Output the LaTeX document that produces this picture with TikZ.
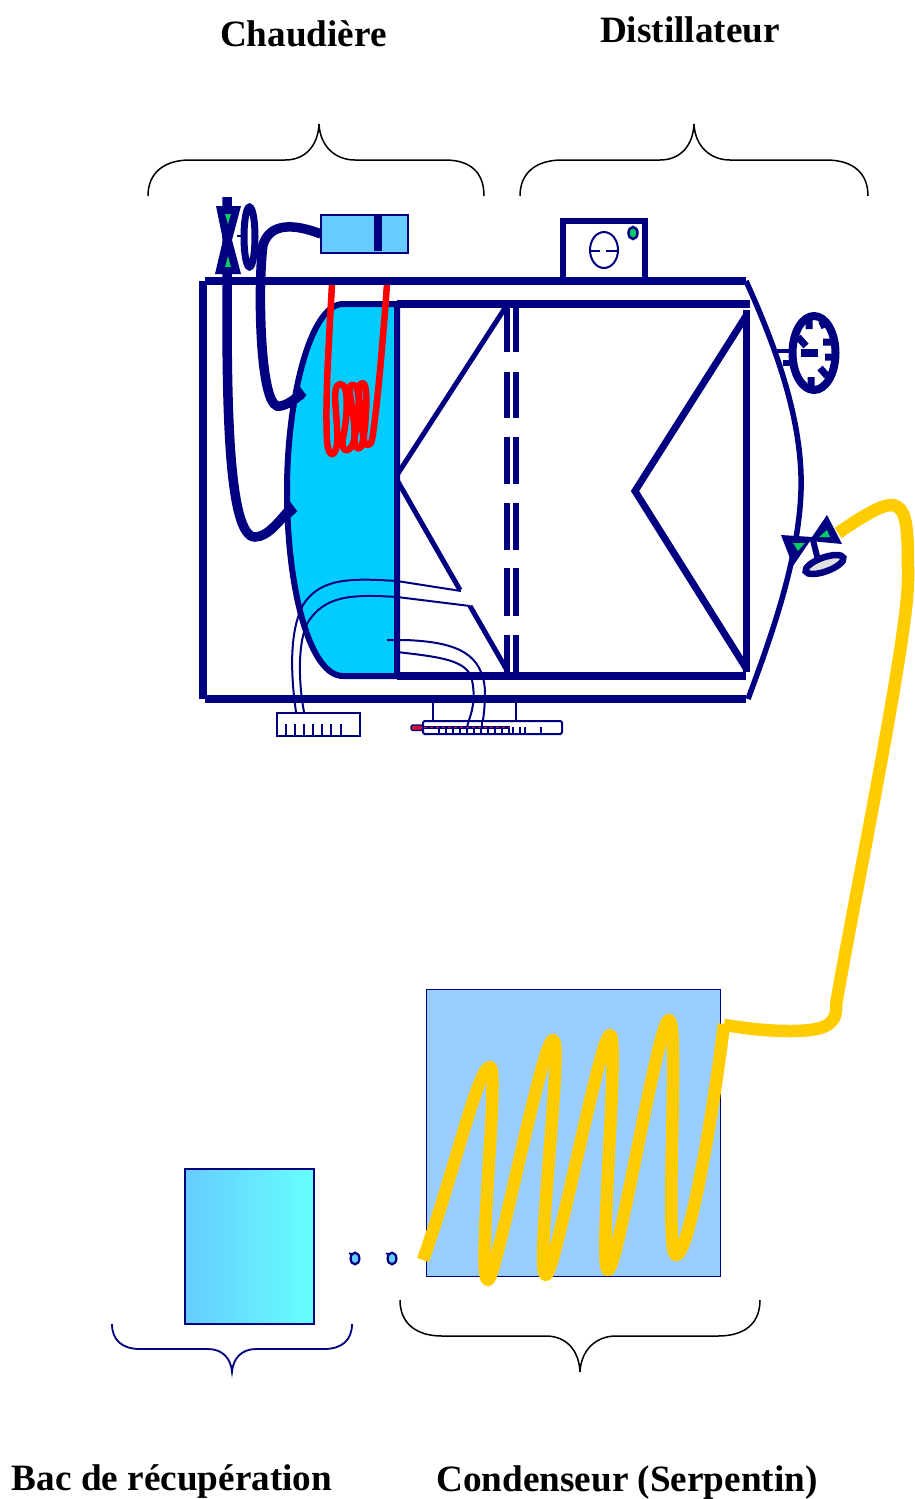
\documentclass[tikz,border=0pt]{standalone}
\usepackage{fontspec}
\setmainfont{Liberation Serif}
\definecolor{navy}{HTML}{000080}
\definecolor{boil}{HTML}{00CCFF}
\definecolor{sky}{HTML}{66CCFF}
\definecolor{aqua}{HTML}{66FFFF}
\definecolor{pale}{HTML}{99CCFF}
\definecolor{gold}{HTML}{FFCC00}
\definecolor{grn}{HTML}{00CC66}
\definecolor{crim}{HTML}{CC1133}
\tikzset{
 title/.style={font=\bfseries\fontsize{37.2}{40}\selectfont,text=black,inner sep=0pt},
 brace/.style={draw=black,line width=1.5pt},
 navybrace/.style={draw=navy,line width=1.8pt},
 wall/.style={draw=navy,line width=7.5pt},
 thinwire/.style={draw=navy,line width=2pt},
 tick/.style={draw=navy,line width=1.8pt},
 dashbar/.style={draw=navy,line width=6pt},
 redcoil/.style={draw=red,line width=6.5pt,line join=round},
 goldpipe/.style={draw=gold,line width=12.5pt,line join=round},
 pipe/.style={draw=navy,line width=9.5pt},
}
\begin{document}
\begin{tikzpicture}[x=1pt,y=-1pt]
\useasboundingbox (0,0) rectangle (914,1499);
% titles
\node[title] (chaud) at (303.5,34) {Chaudière};
\node[title] (dist) at (690,29.5) {Distillateur};
\node[title] (bac) at (172,1481.5) {Bac de récupération};
\node[title] (cond) at (627,1482.5) {Condenseur (Serpentin)};
% braces
\draw[brace] (148,196) .. controls (148,172) and (165,160) .. (190,160) -- (285,160) .. controls (305,160) and (318,146) .. (319,124) .. controls (320,146) and (335,160) .. (355,160) -- (445,160) .. controls (470,160) and (484,172) .. (484,196);
\draw[brace] (520,196) .. controls (520,172) and (537,160) .. (562,160) -- (660,160) .. controls (680,160) and (693,146) .. (694,124) .. controls (695,146) and (710,160) .. (730,160) -- (826,160) .. controls (852,160) and (868,172) .. (868,196);
\draw[brace] (400,1300) .. controls (400,1324) and (417,1336) .. (442,1336) -- (546,1336) .. controls (566,1336) and (579,1350) .. (580,1372) .. controls (581,1350) and (596,1336) .. (616,1336) -- (718,1336) .. controls (744,1336) and (760,1324) .. (760,1300);
\draw[navybrace] (112,1324) .. controls (112,1340) and (122,1349) .. (140,1349) -- (208,1349) .. controls (222,1349) and (231,1358) .. (232,1372) .. controls (233,1358) and (242,1349) .. (256,1349) -- (324,1349) .. controls (342,1349) and (352,1340) .. (352,1324);
% boiler body
\draw[draw=navy,line width=6pt,fill=boil] (397,304) -- (343,304) .. controls (310,304) and (287,400) .. (287,490) .. controls (287,590) and (310,676) .. (343,676) -- (397,676) -- cycle;
% thin wires
\draw[thinwire] (461,591) -- (397,581) .. controls (350,578) and (320,578) .. (303,605) .. controls (290,630) and (290,670) .. (296,712);
\draw[thinwire] (470,606) -- (397,597) .. controls (350,594) and (325,596) .. (308,622) .. controls (298,640) and (298,680) .. (304,712);
\draw[thinwire] (387,640) -- (405,640) .. controls (460,642) and (482,655) .. (485,690) .. controls (485,705) and (484,715) .. (482,726);
\draw[thinwire] (397,652) .. controls (440,657) and (468,660) .. (472,680) .. controls (476,700) and (472,712) .. (467,726);
% red coil
\draw[redcoil] (332,284) .. controls (329,340) and (325,400) .. (327,440) .. controls (328,458) and (335,458) .. (337,445) .. controls (339,420) and (330,385) .. (340,384) .. controls (350,383) and (347,420) .. (343,438) .. controls (340,454) and (351,454) .. (354,440) .. controls (357,420) and (346,386) .. (351,385) .. controls (362,380) and (359,420) .. (355,435) .. controls (353,452) and (362,452) .. (363,440) .. controls (364,420) and (354,384) .. (362,383) .. controls (369,381) and (366,420) .. (364,435) .. controls (363,447) and (370,448) .. (372,440) .. controls (377,410) and (383,340) .. (387,284);
% inner vessel
\draw[wall] (397,304) -- (750,304);
\draw[wall] (397,676) -- (746,676);
\draw[draw=navy,line width=6pt] (397,304) -- (397,676);
\draw[draw=navy,line width=7pt] (746,310) -- (746,672);
\draw[draw=navy,line width=5pt] (397,475) -- (505,308);
\draw[draw=navy,line width=5pt] (397,480) -- (460,590);
\draw[draw=navy,line width=5pt] (470,606) -- (508,672);
\draw[draw=navy,line width=7pt] (746,316) -- (635,491) -- (746,668);
% dashed double wall
\foreach \ya/\yb in {305/352,372/418,437/484,503/550,568/616,635/676}{
 \draw[dashbar] (507,\ya) -- (507,\yb);
 \draw[dashbar] (516,\ya) -- (516,\yb);
}
% outer casing
\draw[wall] (203,281) -- (203,699);
\draw[wall] (205,281) -- (746,281);
\draw[wall] (205,699) -- (746,699);
\draw[draw=navy,line width=5.5pt] (746,281) .. controls (775,345) and (803,420) .. (801,490) .. controls (799,560) and (770,640) .. (748,699);
% top-left valve and pipes
\draw[pipe] (227,197) -- (227,300) .. controls (227,400) and (228,537) .. (255,537) .. controls (268,537) and (280,520) .. (291,508);
\draw[draw=navy,line width=5pt,line join=miter] (288,503) -- (294,511) -- (286,518);
\fill[navy] (216,206) -- (241,206) -- (232,240) -- (241,274) -- (215,274) -- (223,240) -- cycle;
\fill[grn] (225,214) -- (231,214) -- (228,224) -- cycle;
\fill[grn] (225,267) -- (231,267) -- (228,256) -- cycle;
\draw[draw=navy,line width=2.5pt] (237,236) -- (244,236);
\draw[draw=navy,line width=7pt] (249.5,237) ellipse [x radius=5.5pt,y radius=30pt];
\draw[pipe] (321,234) .. controls (295,224) and (270,222) .. (263,245) .. controls (258,280) and (259,400) .. (277,406) .. controls (285,407) and (293,400) .. (302,394);
\draw[draw=navy,line width=5pt] (297,387) -- (303,395) -- (296,401);
% top box
\node[draw=navy,line width=2pt,fill=sky,minimum width=87pt,minimum height=38pt,inner sep=0pt] (hbox) at (364.5,234) {};
\draw[draw=navy,line width=8pt] (378,216) -- (378,251);
% distillateur box
\draw[draw=navy,line width=6pt] (563,278) -- (563,220.5) -- (645,220.5) -- (645,278);
\draw[draw=navy,line width=2pt] (604,250) ellipse [x radius=14pt,y radius=18pt];
\draw[draw=navy,line width=2pt] (590,251) -- (600,251) (606,251) -- (617,251);
\draw[draw=navy,line width=2.5pt,fill=grn] (633,233) ellipse [x radius=4.5pt,y radius=6pt];
% gauge
\draw[draw=navy,line width=4.5pt] (776,351) -- (791,351);
\draw[draw=navy,line width=6pt] (783,363) -- (802,363);
\draw[draw=navy,line width=8pt,fill=white] (814,353) ellipse [x radius=21.5pt,y radius=37pt];
\draw[draw=navy,line width=7pt] (809,320) -- (809,329) (798,337) -- (806,346) (823,342) -- (833,342) (825,357) -- (833,357) (820,368) -- (827,376) (811,377) -- (811,387) (828,322) -- (820,326);
\draw[draw=navy,line width=8pt] (801,353) -- (818,353);
% outlet valve
\draw[draw=navy,line width=6pt] (813,540) -- (818,560);
\fill[navy] (781,535) -- (812,537) -- (827,515) -- (842,544) -- (810,541) -- (793,566) -- cycle;
\fill[grn] (793,543) -- (805,543) -- (798,551) -- cycle;
\fill[grn] (819,537) -- (827,530) -- (830,537) -- cycle;
\draw[draw=navy,line width=6.5pt,fill=white!88!black] (824.5,564.5) ellipse [x radius=20pt,y radius=7pt,rotate=20];
% condenser
\node[draw=navy,line width=1pt,fill=pale,minimum width=294pt,minimum height=287pt,inner sep=0pt] (condbox) at (573,1132.5) {};
% gold pipe
\draw[goldpipe] (838,533) .. controls (860,518) and (880,505) .. (892,505) .. controls (908,507) and (908,530) .. (908,580) .. controls (908,640) and (850,920) .. (836,1005);
\draw[goldpipe] (836,1003) .. controls (838,1025) and (825,1031) .. (790,1031) .. controls (760,1031) and (740,1027) .. (724,1025);
\draw[goldpipe] (423,1260) .. controls (455,1170) and (478,1067) .. (490,1067) .. controls (500,1068) and (476,1280) .. (488,1280) .. controls (496,1280) and (542,1040) .. (553,1040) .. controls (564,1040) and (534,1275) .. (546,1275) .. controls (555,1275) and (600,1035) .. (610,1035) .. controls (620,1035) and (598,1270) .. (608,1270) .. controls (618,1270) and (658,1020) .. (669,1020) .. controls (680,1020) and (664,1255) .. (676,1255) .. controls (690,1255) and (715,1100) .. (724,1024);
% drops
\foreach \dx in {355,392}{
 \draw[draw=navy,line width=2.2pt,fill=sky] (\dx,1258.5) ellipse [x radius=4.4pt,y radius=5.8pt];
 \draw[draw=navy,line width=1.8pt] (\dx-6,1253.5) -- (\dx-2,1254);
}
% collection tank
\node[draw=navy,line width=2pt,minimum width=129pt,minimum height=155pt,inner sep=0pt,left color=sky,right color=aqua] (tank) at (249.5,1246.5) {};
% lower left scale
\node[draw=navy,line width=2pt,fill=white,minimum width=83pt,minimum height=23pt,inner sep=0pt] (scale) at (318.5,724.5) {};
\foreach \tx in {286,295,304,313,322,331,341}{\draw[tick] (\tx,724) -- (\tx,736);}
% thermometer
\draw[thinwire] (433,702) -- (433,721);
\draw[thinwire] (516,702) -- (516,724);
\draw[thinwire,fill=white,rounded corners=1.5pt] (423,721) rectangle (562,734);
\foreach \tx in {439,446,453,460,467,474,481,488,495,502,509}{\draw[tick] (\tx,728) -- (\tx,734);}
\foreach \tx in {513,520,525,541}{\draw[tick] (\tx,727) -- (\tx,734);}
\draw[draw=navy,line width=3pt] (424,727.5) -- (510,727.5);
\draw[draw=crim,line width=1pt,dashed] (424,727.5) -- (510,727.5);
\draw[draw=navy,line width=1.2pt,fill=crim,rounded corners=1.5pt] (411,725) rectangle (423,730.5);
% wire ends over the scales
\draw[thinwire] (482,720) -- (482,727);
\draw[thinwire] (469,720) -- (467,727);
\end{tikzpicture}
\end{document}
